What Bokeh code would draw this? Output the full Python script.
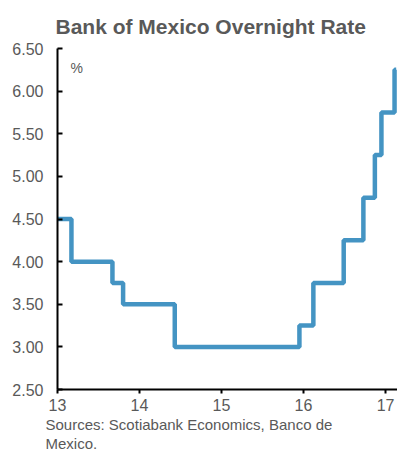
from bokeh.plotting import figure
from bokeh.models import Range1d, FixedTicker, NumeralTickFormatter, Label, Title
from bokeh.embed import file_html
from bokeh.resources import INLINE

# Data: year (yy, fractional) of each rate change, and the rate from then on
years = [13.0, 13.17, 13.67, 13.80, 14.43, 15.95, 16.12, 16.49, 16.73, 16.87, 16.95, 17.11, 17.13]
rates = [4.50, 4.00, 3.75, 3.50, 3.00, 3.25, 3.75, 4.25, 4.75, 5.25, 5.75, 6.25, 6.25]
x_ticks = [13, 14, 15, 16, 17]
y_ticks = [2.5, 3.0, 3.5, 4.0, 4.5, 5.0, 5.5, 6.0, 6.5]
source_lines = ["Sources: Scotiabank Economics, Banco de", "Mexico."]

FONT = "Liberation Sans"
GREY = "#595959"

p = figure(width=397, height=451, output_backend="svg", toolbar_location=None,
           x_range=Range1d(13, 17.146), y_range=Range1d(2.5, 6.5),
           min_border_left=57, min_border_right=0, min_border_top=48, min_border_bottom=20)

p.title.text = "Bank of Mexico Overnight Rate"
p.title.text_font = FONT
p.title.text_font_size = "21px"
p.title.text_color = GREY
p.title.text_font_style = "bold"
p.title.align = "left"
p.title.offset = -2
p.title.standoff = 22

p.outline_line_color = None
p.xgrid.visible = False
p.ygrid.visible = False
p.background_fill_color = "white"
p.border_fill_color = "white"

p.step(years, rates, mode="after", line_color="#4494C3", line_width=4.5)

xa = p.xaxis[0]
xa.ticker = FixedTicker(ticks=x_ticks)
xa.axis_line_color = "black"
xa.axis_line_width = 2
xa.major_tick_line_color = "black"
xa.major_tick_line_width = 2
xa.major_tick_in = 0
xa.major_tick_out = 4
xa.minor_tick_line_color = None
xa.major_label_standoff = 5
xa.major_label_text_font = FONT
xa.major_label_text_font_size = "16px"
xa.major_label_text_color = GREY

ya = p.yaxis[0]
ya.ticker = FixedTicker(ticks=y_ticks)
ya.formatter = NumeralTickFormatter(format="0.00")
ya.axis_line_color = "black"
ya.axis_line_width = 2
ya.major_tick_line_color = "black"
ya.major_tick_line_width = 2
ya.major_tick_in = 5
ya.major_tick_out = 0
ya.minor_tick_line_color = None
ya.major_label_standoff = 14
ya.major_label_text_font = FONT
ya.major_label_text_font_size = "16px"
ya.major_label_text_color = GREY

p.add_layout(Label(x=13.16, y=6.27, text="%", text_font=FONT, text_font_size="14px",
                   text_color=GREY, text_baseline="middle"))

# Source note as titles below the x axis
for line in source_lines:
    t = Title(text=line, align="left", offset=-12, standoff=0,
              text_font=FONT, text_font_size="15px", text_color=GREY,
              text_font_style="normal")
    p.add_layout(t, "below")

open("out.html", "w").write(file_html(p, INLINE))
